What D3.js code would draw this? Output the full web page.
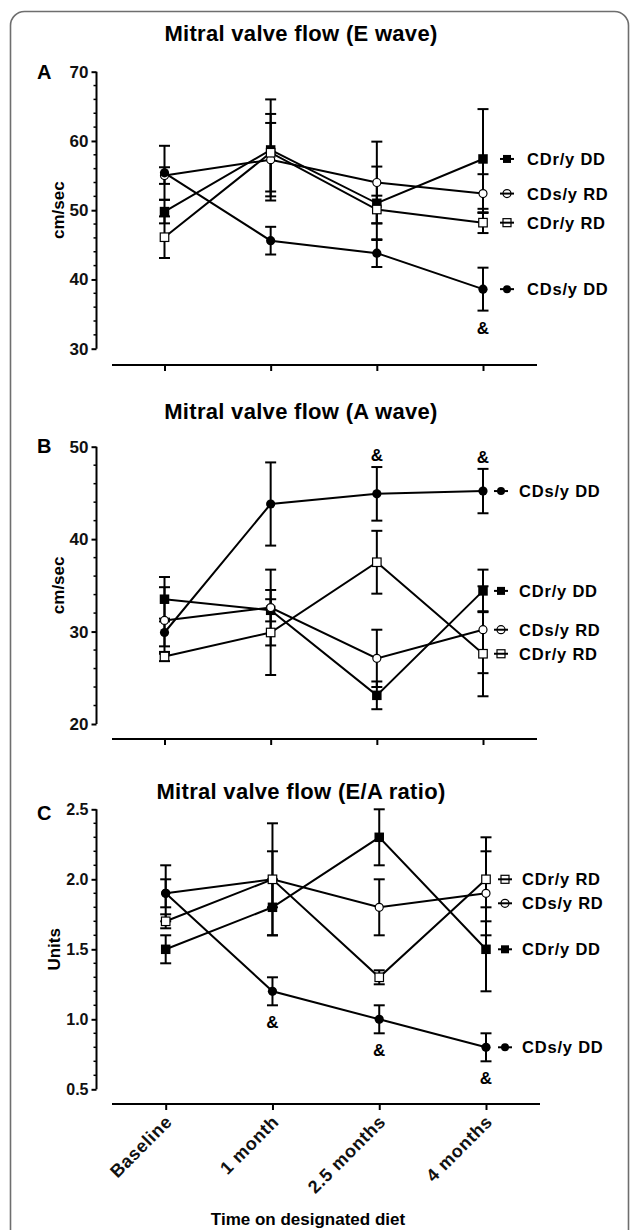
<!DOCTYPE html>
<html>
<head>
<meta charset="utf-8">
<script src="https://cdn.jsdelivr.net/npm/d3@7"></script>
<style>
  html, body { margin: 0; padding: 0; background: #fff; }
  svg { display: block; font-family: "Liberation Sans", Arial, sans-serif; }
</style>
</head>
<body>
<svg id="chart" width="630" height="1230"></svg>
<script>
// ---------------- DATA ----------------
const categories = ["Baseline", "1 month", "2.5 months", "4 months"];
const seriesNames = ["CDr/y DD", "CDs/y RD", "CDr/y RD", "CDs/y DD"];

// Panel A: Mitral valve flow (E wave), cm/sec
const eCDrDD = [49.8, 58.7, 51.0, 57.4];
const eCDrDDErr = [1.7, 7.3, 5.3, 7.2];
const eCDsRD = [55.0, 57.3, 54.0, 52.4];
const eCDsRDErr = [1.2, 5.3, 5.9, 2.8];
const eCDrRD = [46.1, 58.3, 50.1, 48.2];
const eCDrRDErr = [3.0, 5.6, 2.0, 1.5];
const eCDsDD = [55.4, 45.6, 43.8, 38.6];
const eCDsDDErr = [3.9, 2.0, 2.0, 3.1];
const eTicks = [30, 40, 50, 60, 70];
const eSig = [3];            // "&" markers (category index) for CDs/y DD

// Panel B: Mitral valve flow (A wave), cm/sec
const aCDrDD = [33.5, 32.3, 23.1, 34.4];
const aCDrDDErr = [2.4, 1.2, 1.5, 2.3];
const aCDsRD = [31.2, 32.6, 27.1, 30.2];
const aCDsRDErr = [3.6, 4.1, 3.1, 4.7];
const aCDrRD = [27.3, 29.9, 37.5, 27.6];
const aCDrRDErr = [0.5, 4.6, 3.4, 4.6];
const aCDsDD = [29.9, 43.8, 44.9, 45.2];
const aCDsDDErr = [1.5, 4.5, 2.9, 2.4];
const aTicks = [20, 30, 40, 50];
const aSig = [2, 3];

// Panel C: Mitral valve flow (E/A ratio), units
const rCDrDD = [1.5, 1.8, 2.3, 1.5];
const rCDrDDErr = [0.1, 0.2, 0.2, 0.3];
const rCDsRD = [1.9, 2.0, 1.8, 1.9];
const rCDsRDErr = [0.1, 0.2, 0.2, 0.3];
const rCDrRD = [1.7, 2.0, 1.3, 2.0];
const rCDrRDErr = [0.05, 0.4, 0.05, 0.3];
const rCDsDD = [1.9, 1.2, 1.0, 0.8];
const rCDsDDErr = [0.2, 0.1, 0.1, 0.1];
const rTicks = [0.5, 1.0, 1.5, 2.0, 2.5];
const rSig = [1, 2, 3];

const titles = ["Mitral valve flow (E wave)", "Mitral valve flow (A wave)", "Mitral valve flow (E/A ratio)"];
const panelLetters = ["A", "B", "C"];
const yLabels = ["cm/sec", "cm/sec", "Units"];
const xTitle = "Time on designated diet";

// ---------------- DRAW ----------------
const svg = d3.select("#chart");
const FONT = "'Liberation Sans', Arial, sans-serif";

// frame
svg.append("rect")
  .attr("x", 10.5).attr("y", 11.5)
  .attr("width", 618).attr("height", 1300)
  .attr("rx", 14).attr("ry", 14)
  .attr("fill", "none").attr("stroke", "#6e6e6e").attr("stroke-width", 1.6);

const markerKinds = ["fsquare", "ocircle", "osquare", "fcircle"];

function drawMarker(g, kind, x, y, legend) {
  if (kind === "fsquare") {
    const s = legend ? 8 : 9.5;
    g.append("rect").attr("x", x - s / 2).attr("y", y - s / 2).attr("width", s).attr("height", s).attr("fill", "#000");
  } else if (kind === "osquare") {
    const s = legend ? 8 : 8.5;
    g.append("rect").attr("x", x - s / 2).attr("y", y - s / 2).attr("width", s).attr("height", s)
      .attr("fill", legend ? "none" : "#fff").attr("stroke", "#000").attr("stroke-width", 1.2);
  } else if (kind === "ocircle") {
    g.append("circle").attr("cx", x).attr("cy", y).attr("r", legend ? 4 : 4)
      .attr("fill", legend ? "none" : "#fff").attr("stroke", "#000").attr("stroke-width", 1.2);
  } else {
    g.append("circle").attr("cx", x).attr("cy", y).attr("r", legend ? 4 : 4.6).attr("fill", "#000");
  }
}

const panels = [
  { vals: [eCDrDD, eCDsRD, eCDrRD, eCDsDD], errs: [eCDrDDErr, eCDsRDErr, eCDrRDErr, eCDsDDErr],
    ticks: eTicks, minor: 2, fmt: d3.format("d"), sig: eSig, sigAbove: false,
    titleY: 41, yTop: 71.7, yBot: 348.7, axisY: 365, xr: [164.5, 483], axisX: [112, 537],
    letterY: 79, legIcon: 24, legText: 44, yLabelX: 64, tickFont: 17 },
  { vals: [aCDrDD, aCDsRD, aCDrRD, aCDsDD], errs: [aCDrDDErr, aCDsRDErr, aCDrRDErr, aCDsDDErr],
    ticks: aTicks, minor: 2, fmt: d3.format("d"), sig: aSig, sigAbove: true,
    titleY: 419, yTop: 446.7, yBot: 724, axisY: 739, xr: [164.5, 483], axisX: [112, 537],
    letterY: 453, legIcon: 18, legText: 36, yLabelX: 64, tickFont: 17 },
  { vals: [rCDrDD, rCDsRD, rCDrRD, rCDsDD], errs: [rCDrDDErr, rCDsRDErr, rCDrRDErr, rCDsDDErr],
    ticks: rTicks, minor: 0.1, fmt: d3.format(".1f"), sig: rSig, sigAbove: false,
    titleY: 799, yTop: 809.3, yBot: 1089.3, axisY: 1104, xr: [165.7, 486], axisX: [112, 540],
    letterY: 820, legIcon: 19, legText: 36, yLabelX: 60, tickFont: 16 }
];

panels.forEach((p, pi) => {
  const g = svg.append("g");
  const x = d3.scalePoint().domain(categories).range(p.xr).padding(0);
  const dom = d3.extent(p.ticks);
  const y = d3.scaleLinear().domain(dom).range([p.yBot, p.yTop]);

  // title
  g.append("text").attr("x", 301).attr("y", p.titleY).attr("text-anchor", "middle")
    .attr("font-family", FONT).attr("font-weight", "bold").attr("font-size", 22)
    .attr("letter-spacing", 0.3).text(titles[pi]);
  // panel letter
  g.append("text").attr("x", 37).attr("y", p.letterY)
    .attr("font-family", FONT).attr("font-weight", "bold").attr("font-size", 20)
    .text(panelLetters[pi]);

  // y axis
  const axisX = 96.5;
  const yAxis = d3.axisLeft(y).tickValues(p.ticks).tickFormat(p.fmt).tickSize(5).tickPadding(3);
  const ya = g.append("g").attr("transform", `translate(${axisX},0)`).call(yAxis);
  ya.select(".domain").attr("stroke", "#000").attr("stroke-width", 2).attr("d", `M0,${p.yTop}V${p.yBot}`);
  ya.selectAll(".tick line").attr("stroke", "#000").attr("stroke-width", 2);
  ya.selectAll(".tick text").attr("font-family", FONT).attr("font-weight", "bold")
    .attr("font-size", p.tickFont).attr("fill", "#111");
  // minor ticks
  const minorVals = d3.range(dom[0], dom[1] + 1e-9, p.minor)
    .filter(v => !p.ticks.some(t => Math.abs(t - v) < 1e-6));
  g.selectAll(null).data(minorVals).enter().append("line")
    .attr("x1", axisX - 3).attr("x2", axisX).attr("y1", d => y(d)).attr("y2", d => y(d))
    .attr("stroke", "#000").attr("stroke-width", 1.5);

  // y label
  const ymid = (p.yTop + p.yBot) / 2;
  g.append("text").attr("transform", `translate(${p.yLabelX},${ymid}) rotate(-90)`)
    .attr("text-anchor", "middle").attr("font-family", FONT).attr("font-weight", "bold")
    .attr("font-size", 17).text(yLabels[pi]);

  // x axis (offset, GraphPad style)
  const xa = g.append("g").attr("transform", `translate(0,${p.axisY})`)
    .call(d3.axisBottom(x).tickSize(6).tickSizeOuter(0).tickFormat(pi === 2 ? (d => d) : ""));
  xa.select(".domain").attr("stroke", "#000").attr("stroke-width", 2)
    .attr("d", `M${p.axisX[0]},0H${p.axisX[1]}`);
  xa.selectAll(".tick line").attr("stroke", "#000").attr("stroke-width", 2);
  if (pi === 2) {
    xa.selectAll(".tick text")
      .attr("font-family", FONT).attr("font-weight", "bold").attr("font-size", 18).attr("fill", "#111")
      .attr("letter-spacing", 0.6)
      .attr("text-anchor", "end").attr("dy", 0)
      .attr("transform", "translate(7,19) rotate(-45)").attr("y", 0).attr("x", 0);
  }

  // lines
  const line = d3.line().x((d, i) => x(categories[i])).y(d => y(d));
  p.vals.forEach(v => {
    g.append("path").attr("d", line(v)).attr("fill", "none").attr("stroke", "#000").attr("stroke-width", 2);
  });
  // error bars
  p.vals.forEach((v, si) => {
    v.forEach((d, i) => {
      const cx = x(categories[i]);
      const e = p.errs[si][i];
      const y1 = y(d + e), y2 = y(d - e);
      g.append("line").attr("x1", cx).attr("x2", cx).attr("y1", y1).attr("y2", y2)
        .attr("stroke", "#000").attr("stroke-width", 2);
      [y1, y2].forEach(yy => g.append("line").attr("x1", cx - 5.5).attr("x2", cx + 5.5)
        .attr("y1", yy).attr("y2", yy).attr("stroke", "#000").attr("stroke-width", 2));
    });
  });
  // markers
  p.vals.forEach((v, si) => {
    v.forEach((d, i) => drawMarker(g, markerKinds[si], x(categories[i]), y(d), false));
  });

  // significance "&" for CDs/y DD
  const sdd = p.vals[3], sdde = p.errs[3];
  p.sig.forEach(i => {
    const cx = x(categories[i]);
    const yy = p.sigAbove ? y(sdd[i] + sdde[i]) - 6 : y(sdd[i] - sdde[i]) + 23;
    g.append("text").attr("x", cx).attr("y", yy).attr("text-anchor", "middle")
      .attr("font-family", FONT).attr("font-weight", "bold").attr("font-size", 17).text("&");
  });

  // legend at right end of each line, avoiding overlaps
  const lastX = x(categories[categories.length - 1]);
  const items = seriesNames.map((n, si) => ({ n, si, yy: y(p.vals[si][p.vals[si].length - 1]) }))
    .sort((a, b) => a.yy - b.yy);
  for (let k = 1; k < items.length; k++) {
    if (items[k].yy - items[k - 1].yy < 24) items[k].yy = items[k - 1].yy + 24;
  }
  items.forEach(it => {
    const ix = lastX + p.legIcon;
    g.append("line").attr("x1", ix - 7).attr("x2", ix + 7).attr("y1", it.yy).attr("y2", it.yy)
      .attr("stroke", "#000").attr("stroke-width", 2);
    drawMarker(g, markerKinds[it.si], ix, it.yy, true);
    g.append("text").attr("x", lastX + p.legText).attr("y", it.yy).attr("dy", "0.36em")
      .attr("font-family", FONT).attr("font-weight", "bold").attr("font-size", 16.5)
      .attr("letter-spacing", 0.8).text(it.n);
  });

  if (pi === 2) {
    g.append("text").attr("x", 308).attr("y", 1225).attr("text-anchor", "middle")
      .attr("font-family", FONT).attr("font-weight", "bold").attr("font-size", 17).text(xTitle);
  }
});
</script>
</body>
</html>
